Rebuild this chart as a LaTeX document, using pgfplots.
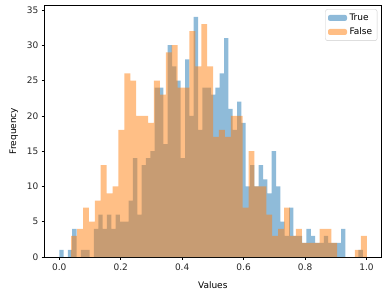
\documentclass[border=0pt]{standalone}
\usepackage{fontspec}
\setmainfont{DejaVu Sans}
\usepackage{pgfplots}
\pgfplotsset{compat=1.18}
\definecolor{CZero}{HTML}{1F77B4}
\definecolor{COne}{HTML}{FF7F0E}
\begin{document}
\fontsize{9pt}{11pt}\selectfont
\begin{tikzpicture}
\begin{axis}[
  scale only axis, width=336.5pt, height=252pt,
  xmin=-0.048, xmax=1.047, ymin=0, ymax=35.7,
  xtick={0,0.2,0.4,0.6,0.8,1.0},
  xticklabels={0.0,0.2,0.4,0.6,0.8,1.0},
  ytick={0,5,10,15,20,25,30,35},
  tick align=outside, xtick pos=bottom, ytick pos=left,
  major tick length=2.9pt,
  tick style={black, line width=0.6pt},
  axis line style={black, line width=0.6pt},
  /pgf/number format/assume math mode=true,
  ticklabel style={font=\fontsize{9pt}{11pt}\selectfont, text=black!85},
  xticklabel style={yshift=-1pt},
  xlabel={Values}, ylabel={Frequency},
  every axis y label/.style={at={(axis description cs:-0.091,0.5)},rotate=90,anchor=center,font=\fontsize{9pt}{11pt}\selectfont},
  every axis x label/.style={at={(axis description cs:0.5,-0.111)},anchor=center,font=\fontsize{9pt}{11pt}\selectfont},
  legend style={at={(0.989,0.983)}, anchor=north east, draw=black!20, rounded corners=2pt,
    fill=white, fill opacity=0.8, text opacity=1, font=\fontsize{9pt}{11pt}\selectfont,
    inner xsep=2.5pt, inner ysep=2pt, row sep=1pt, nodes={inner sep=2.5pt}},
  legend cell align=left,
]
\addplot[const plot mark left, draw=none, fill=CZero, fill opacity=0.5,
  legend image code/.code={\fill[CZero, fill opacity=0.5] (0pt,-3pt) rectangle (19pt,3pt);}]
coordinates {
(0.0000,1)(0.0141,0)(0.0282,1)(0.0423,4)(0.0564,0)(0.0706,1)(0.0847,1)(0.0988,0)(0.1129,4)(0.1270,6)
(0.1411,4)(0.1552,6)(0.1693,4)(0.1834,6)(0.1975,5)(0.2117,5)(0.2258,8)(0.2399,14)(0.2540,6)(0.2681,13)
(0.2822,14)(0.2963,15)(0.3104,24)(0.3245,24)(0.3386,16)(0.3528,30)(0.3669,27)(0.3810,25)(0.3951,14)(0.4092,28)
(0.4233,20)(0.4374,34)(0.4515,18)(0.4656,24)(0.4797,24)(0.4939,23)(0.5080,24)(0.5221,26)(0.5362,31)(0.5503,21)
(0.5644,18)(0.5785,22)(0.5926,19)(0.6067,10)(0.6208,13)(0.6350,10)(0.6491,13)(0.6632,11)(0.6773,9)(0.6914,15)
(0.7055,10)(0.7196,5)(0.7337,3)(0.7478,7)(0.7619,3)(0.7761,3)(0.7902,2)(0.8043,4)(0.8184,3)(0.8325,2)
(0.8466,2)(0.8607,3)(0.8748,2)(0.8889,2)(0.9030,2)(0.9172,4)(0.9313,0)(0.9454,0)(0.9595,0)(0.9736,1)
(0.9877,1)
} \closedcycle;
\addlegendentry{True}
\addplot[const plot mark left, draw=none, fill=COne, fill opacity=0.5,
  legend image code/.code={\fill[COne, fill opacity=0.5] (0pt,-3pt) rectangle (19pt,3pt);}]
coordinates {
(0.0388,3)(0.0580,4)(0.0773,7)(0.0965,5)(0.1158,8)(0.1350,13)(0.1542,9)(0.1735,10)(0.1927,18)(0.2120,26)
(0.2312,25)(0.2504,20)(0.2697,20)(0.2889,19)(0.3082,25)(0.3274,23)(0.3466,29)(0.3659,30)(0.3851,24)(0.4044,24)
(0.4236,32)(0.4428,27)(0.4621,33)(0.4813,27)(0.5006,17)(0.5198,18)(0.5390,17)(0.5583,20)(0.5775,20)(0.5968,7)
(0.6160,15)(0.6352,10)(0.6545,10)(0.6737,6)(0.6930,3)(0.7122,4)(0.7314,7)(0.7507,3)(0.7699,4)(0.7892,2)
(0.8084,2)(0.8276,2)(0.8469,4)(0.8661,4)(0.8854,2)(0.9046,0)(0.9238,0)(0.9431,0)(0.9623,1)(0.9816,3)
(1.0008,3)
} \closedcycle;
\addlegendentry{False}
\end{axis}
\path[use as bounding box] ([xshift=-44.5pt,yshift=-35pt]current axis.south west) rectangle ([xshift=4pt,yshift=5pt]current axis.north east);
\end{tikzpicture}
\end{document}
